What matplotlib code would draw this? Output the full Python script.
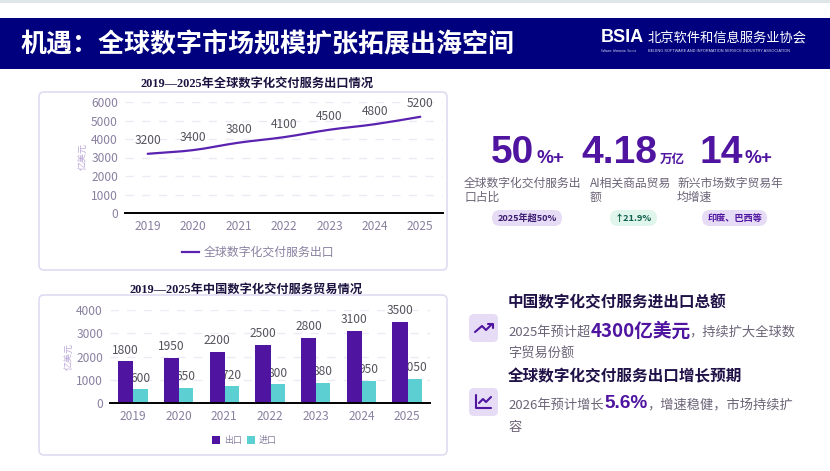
import matplotlib
matplotlib.use('Agg')
import matplotlib.pyplot as plt
from matplotlib.patches import FancyBboxPatch, PathPatch, Rectangle
from matplotlib.path import Path

W, H = 830, 471
CJK = ['Noto Sans CJK SC', 'DejaVu Sans']
SERIF = ['Liberation Serif', 'Noto Sans CJK SC']
LATIN = ['Liberation Sans']
plt.rcParams['font.family'] = CJK

years = ['2019', '2020', '2021', '2022', '2023', '2024', '2025']
global_export = [3200, 3400, 3800, 4100, 4500, 4800, 5200]
china_export = [1800, 1950, 2200, 2500, 2800, 3100, 3500]
china_import = [600, 650, 720, 800, 880, 950, 1050]

PURPLE = '#4f14a0'
LINE_PURPLE = '#5a22b0'
TEAL = '#5ccfd3'
NAVY = '#00007f'
TICK = '#8a80a0'
LABEL = '#55525c'
BODY = '#6b6377'
DARK = '#1f1147'
PILL = '#e6dcf5'


def px(v):
    """pixels to points"""
    return v * 0.72


def axes_at(left, top, right, bottom):
    return fig.add_axes([left / W, 1 - bottom / H, (right - left) / W, (bottom - top) / H])


def style_axes(ax, ymax, step):
    ax.set_xlim(-0.5, 6.5)
    ax.set_ylim(0, ymax)
    ax.patch.set_alpha(0)
    for s in ['top', 'left', 'right']:
        ax.spines[s].set_visible(False)
    ax.spines['bottom'].set_linewidth(1.4)
    ax.spines['bottom'].set_color('black')
    ax.spines['bottom'].set_zorder(6)
    ax.set_xticks(range(len(years)))
    ax.set_xticklabels(years)
    ax.set_yticks(range(0, ymax + 1, step))
    ax.tick_params(length=0, labelsize=px(12), labelcolor=TICK)
    ax.tick_params(axis='x', pad=5)
    ax.tick_params(axis='y', pad=5)
    ax.grid(axis='y', color='#ecebf5', linewidth=1, linestyle=(0, (6, 6)))
    ax.set_axisbelow(True)


def smooth_path(xs, ys, k=0.3):
    """cubic segments through the points, tangent taken from the neighbours"""
    verts = [(xs[0], ys[0])]
    codes = [Path.MOVETO]
    n = len(xs)
    for i in range(n - 1):
        a = max(i - 1, 0)
        b = min(i + 2, n - 1)
        s0 = (ys[i + 1] - ys[a]) / (xs[i + 1] - xs[a])
        s1 = (ys[b] - ys[i]) / (xs[b] - xs[i])
        verts.append((xs[i] + k, ys[i] + s0 * k))
        verts.append((xs[i + 1] - k, ys[i + 1] - s1 * k))
        verts.append((xs[i + 1], ys[i + 1]))
        codes += [Path.CURVE4] * 3
    return Path(verts, codes)


def card(left, top, right, bottom):
    bg.add_patch(FancyBboxPatch((left, top), right - left, bottom - top,
                                boxstyle='round,pad=0,rounding_size=5',
                                fc='white', ec='#e0dbf2', lw=1.2))


def pill(left, right, top, bottom, color, label, text_color):
    r = (bottom - top) / 2
    bg.add_patch(FancyBboxPatch((left, top), right - left, bottom - top,
                                boxstyle=f'round,pad=0,rounding_size={r}',
                                fc=color, ec='none'))
    bg.text((left + right) / 2, (top + bottom) / 2, label, ha='center', va='center',
            fontsize=px(9.2), fontweight='bold', color=text_color)


def put(x, y, s, size, color=BODY, weight='normal', ha='left', va='center', **kw):
    return bg.text(x, y, s, fontsize=px(size), color=color, fontweight=weight, ha=ha, va=va, **kw)


fig = plt.figure(figsize=(W / 100, H / 100), dpi=100, facecolor='white')

# full-size layer for the page furniture, in pixel units
bg = fig.add_axes([0, 0, 1, 1])
bg.set_xlim(0, W)
bg.set_ylim(H, 0)
bg.axis('off')

# header band
bg.add_patch(Rectangle((0, 0), W, 3, fc='#dfe6ea', ec='none'))
bg.add_patch(Rectangle((0, 18), W, 51, fc=NAVY, ec='none'))
put(20, 44.5, '机遇：全球数字市场规模扩张拓展出海空间', 26, 'white', 'bold')
put(601, 38, 'BSIA', 18, 'white', 'bold', family=LATIN)
put(648, 38, '北京软件和信息服务业协会', 13.3, 'white')
put(648, 51.5, 'BEIJING SOFTWARE AND INFORMATION SERVICE INDUSTRY ASSOCIATION', 3.9, '#d8d8ee', family=LATIN)
put(601, 51.5, 'Software  Information  Service', 2.6, '#d8d8ee', family=LATIN)

# chart cards
card(39, 92, 447, 270)
card(39, 295, 447, 455)
put(257, 83.5, '2019—2025年全球数字化交付服务出口情况', 12.2, '#1c1240', 'bold', ha='center', family=SERIF)
put(246, 290, '2019—2025年中国数字化交付服务贸易情况', 12.2, '#1c1240', 'bold', ha='center', family=SERIF)

# line chart
ax1 = axes_at(125, 102, 443, 213)
style_axes(ax1, 6000, 1000)
xs = list(range(len(years)))
ax1.add_patch(PathPatch(smooth_path(xs, global_export), fc='none', ec=LINE_PURPLE, lw=1.6,
                        capstyle='round', zorder=3))
for x, v in zip(xs, global_export):
    ax1.annotate(str(v), (x, v), xytext=(0, px(13)), textcoords='offset points', ha='center',
                 va='center', fontsize=px(12), color=LABEL, zorder=4)
put(83, 157, '亿美元', 9, '#b9a6d6', rotation=90, ha='center')
bg.plot([182, 199], [252, 252], color=LINE_PURPLE, lw=1.6)
put(204, 252, '全球数字化交付服务出口', 11.9, TICK)

# grouped bars, import labels sit behind the export bars
ax2 = axes_at(110, 310, 430, 403)
style_axes(ax2, 4000, 1000)
off, bw = 0.155, 0.335
ax2.bar([x - off for x in xs], china_export, bw, color=PURPLE, zorder=3)
ax2.bar([x + off for x in xs], china_import, bw, color=TEAL, zorder=2)
for x, e, i in zip(xs, china_export, china_import):
    ax2.annotate(str(e), (x - off, e), xytext=(0, px(11)), textcoords='offset points', ha='center',
                 va='center', fontsize=px(12), color=LABEL, zorder=4)
    ax2.annotate(str(i), (x + off, i), xytext=(0, px(11)), textcoords='offset points', ha='center',
                 va='center', fontsize=px(12), color=LABEL, zorder=2.5)
put(69, 357, '亿美元', 9, '#b9a6d6', rotation=90, ha='center')
bg.add_patch(Rectangle((212, 436), 8, 8, fc=PURPLE, ec='none'))
put(224, 440.5, '出口', 9, TICK)
bg.add_patch(Rectangle((247, 436), 8, 8, fc=TEAL, ec='none'))
put(259, 440.5, '进口', 9, TICK)

# headline numbers
BASE = 163
put(491, BASE, '50', 39, PURPLE, 'bold', va='baseline', family=LATIN)
put(536, BASE, '%+', 19, PURPLE, 'bold', va='baseline', family=LATIN)
put(581, BASE, '4.18', 39, PURPLE, 'bold', va='baseline', family=LATIN)
put(660, BASE, '万亿', 12.5, PURPLE, 'bold', va='baseline')
put(699, BASE, '14', 39, PURPLE, 'bold', va='baseline', family=LATIN)
put(744, BASE, '%+', 19, PURPLE, 'bold', va='baseline', family=LATIN)

put(464, 183, '全球数字化交付服务出', 11.8)
put(464, 197, '口占比', 11.8)
put(590, 183, 'AI相关商品贸易', 11.8)
put(590, 197, '额', 11.8)
put(677, 183, '新兴市场数字贸易年', 11.8)
put(677, 197, '均增速', 11.8)

pill(492, 562, 210, 226, PILL, '2025年超50%', '#3b1a70')
pill(610, 657, 210, 226, '#e0f5ec', '↑21.9%', '#0f5f4c')
pill(702, 767, 210, 226, PILL, '印度、巴西等', '#4f14a0')

# notes on the right
for top in (314, 388):
    bg.add_patch(FancyBboxPatch((469, top), 29, 28, boxstyle='round,pad=0,rounding_size=5',
                                fc=PILL, ec='none'))
bg.plot([475, 482, 486, 492], [332, 326, 330, 324], color=PURPLE, lw=1.5, solid_capstyle='round')
bg.plot([488, 492.5, 492.5], [323.5, 323.5, 328], color=PURPLE, lw=1.5, solid_capstyle='round')
bg.plot([476, 476, 491], [395, 408, 408], color=PURPLE, lw=1.5, solid_capstyle='round')
bg.plot([479, 483, 486, 491], [403, 399, 402, 397], color=PURPLE, lw=1.5, solid_capstyle='round')

put(508, 302, '中国数字化交付服务进出口总额', 15.6, DARK, 'bold')
put(508, 332, '2025年预计超', 13.2)
put(591, 331, '4300亿美元', 18.7, PURPLE, 'bold')
put(689, 332, '，持续扩大全球数', 13.2)
put(508, 354, '字贸易份额', 13.2)

put(508, 376, '全球数字化交付服务出口增长预期', 15.6, DARK, 'bold')
put(508, 405, '2026年预计增长', 13.2)
put(604, 404, '5.6%', 19, PURPLE, 'bold', family=LATIN)
put(647, 405, '，增速稳健，市场持续扩', 13.2)
put(508, 428, '容', 13.2)

fig.savefig('out.png', dpi=100)
